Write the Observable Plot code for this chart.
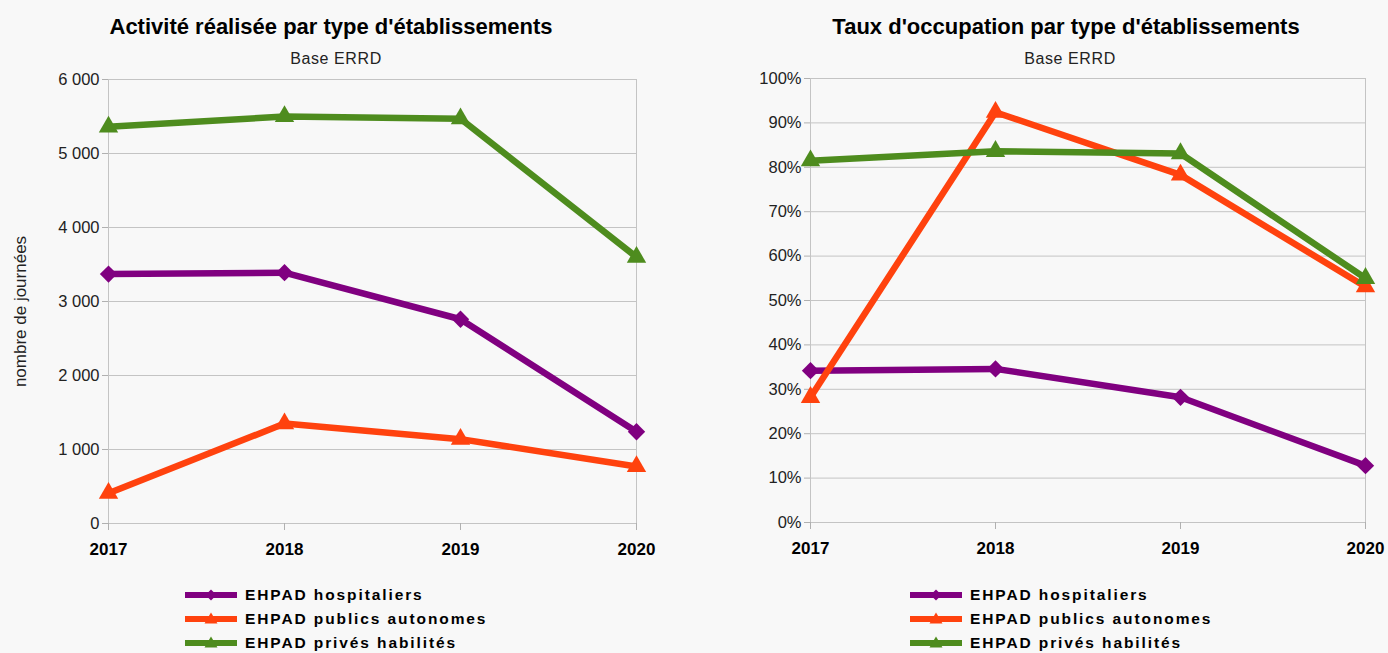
<!DOCTYPE html>
<html>
<head>
<meta charset="utf-8">
<script src="https://cdn.jsdelivr.net/npm/d3@7"></script>
<script src="https://cdn.jsdelivr.net/npm/@observablehq/plot@0.6"></script>
<style>
  html, body { margin: 0; padding: 0; }
  body { width: 1388px; height: 653px; background: #f8f8f8; font-family: "Liberation Sans", Arial, sans-serif; position: relative; overflow: hidden; }
  .title { position: absolute; top: 14px; font-weight: bold; font-size: 22px; color: #000; white-space: nowrap; transform: translateX(-50%); }
  .subtitle { position: absolute; top: 50px; font-size: 16px; color: #222; white-space: nowrap; transform: translateX(-50%); letter-spacing: 0.6px; }
  .chart { position: absolute; top: 68px; }
  .legend { position: absolute; top: 583px; }
  .legend .row { display: flex; align-items: center; height: 24px; }
  .legend .row span { font-weight: bold; font-size: 15.5px; letter-spacing: 1.9px; color: #000; margin-left: 8px; }
</style>
</head>
<body>
<div class="title" style="left:331px">Activité réalisée par type d'établissements</div>
<div class="subtitle" style="left:336px">Base ERRD</div>
<div class="chart" id="left" style="left:0px"></div>
<div class="legend" id="legLeft" style="left:185px"></div>

<div class="title" style="left:1066px">Taux d'occupation par type d'établissements</div>
<div class="subtitle" style="left:1070px">Base ERRD</div>
<div class="chart" id="right" style="left:694px"></div>
<div class="legend" id="legRight" style="left:910px"></div>

<script>
// ---- data ----
const years = [2017, 2018, 2019, 2020];
const seriesNames = ["EHPAD hospitaliers", "EHPAD publics autonomes", "EHPAD privés habilités"];
const seriesColors = ["#800080", "#ff420e", "#4e8c1e"];
const seriesSymbols = ["diamond2", "triangle", "triangle"];

// Activité réalisée (nombre de journées)
const activiteHospitaliers = [3370, 3390, 2760, 1240];
const activitePublics = [410, 1350, 1140, 770];
const activitePrives = [5360, 5500, 5470, 3600];

// Taux d'occupation
const tauxHospitaliers = [0.342, 0.346, 0.282, 0.128];
const tauxPublics = [0.282, 0.924, 0.783, 0.531];
const tauxPrives = [0.815, 0.836, 0.831, 0.550];

const activiteTicks = [0, 1000, 2000, 3000, 4000, 5000, 6000];
const tauxTicks = [0, 0.1, 0.2, 0.3, 0.4, 0.5, 0.6, 0.7, 0.8, 0.9, 1.0];
const activiteLabel = "nombre de journées";

function toRows(valuesList) {
  const rows = [];
  valuesList.forEach((vals, i) => {
    vals.forEach((v, j) => rows.push({serie: seriesNames[i], year: years[j], value: v}));
  });
  return rows;
}

const fmtSpace = d => d3.format(",")(d).replace(/,/g, " ");
const fmtPct = d3.format(".0%");

function seriesMarks(rows) {
  const marks = [];
  seriesNames.forEach((name, i) => {
    const data = rows.filter(r => r.serie === name);
    marks.push(Plot.line(data, {x: "year", y: "value", stroke: seriesColors[i], strokeWidth: 6.5, strokeLinejoin: "round"}));
  });
  seriesNames.forEach((name, i) => {
    const data = rows.filter(r => r.serie === name);
    marks.push(Plot.dot(data, {x: "year", y: "value", fill: seriesColors[i], stroke: "none",
      symbol: () => seriesSymbols[i], r: seriesSymbols[i] === "diamond2" ? 7.8 : 7.2}));
  });
  return marks;
}

const common = {
  width: 694,
  height: 500,
  style: {background: "transparent", fontFamily: "'Liberation Sans', Arial, sans-serif", color: "#222", overflow: "visible"},
  x: {domain: [2017, 2020]},
  symbol: {type: "identity"}
};

const leftChart = Plot.plot({
  ...common,
  marginLeft: 108, marginRight: 58, marginTop: 11, marginBottom: 45,
  y: {domain: [0, 6000]},
  marks: [
    Plot.gridY(activiteTicks, {stroke: "#c4c4c4", strokeOpacity: 1}),
    Plot.frame({stroke: "#c4c4c4"}),
    Plot.axisX(years, {tickFormat: "d", tickSize: 7, tickPadding: 12, fontSize: 17, fontWeight: "bold", label: null, stroke: "#b0b0b0", fill: "#000"}),
    Plot.axisY(activiteTicks, {tickFormat: fmtSpace, tickSize: 6, tickPadding: 3, fontSize: 16.5, label: null, stroke: "#b0b0b0", fill: "#222"}),
    Plot.text([activiteLabel], {text: d => d, frameAnchor: "left", textAnchor: "middle", rotate: -90, dx: -88, dy: 10, fontSize: 17, fill: "#222"}),
    ...seriesMarks(toRows([activiteHospitaliers, activitePublics, activitePrives]))
  ]
});
document.getElementById("left").append(leftChart);

const rightChart = Plot.plot({
  ...common,
  marginLeft: 116, marginRight: 23, marginTop: 10, marginBottom: 46,
  y: {domain: [0, 1]},
  marks: [
    Plot.gridY(tauxTicks, {stroke: "#c4c4c4", strokeOpacity: 1}),
    Plot.frame({stroke: "#c4c4c4"}),
    Plot.axisX(years, {tickFormat: "d", tickSize: 7, tickPadding: 12, fontSize: 17, fontWeight: "bold", label: null, stroke: "#b0b0b0", fill: "#000"}),
    Plot.axisY(tauxTicks, {tickFormat: fmtPct, tickSize: 6, tickPadding: 3, fontSize: 16.5, label: null, stroke: "#b0b0b0", fill: "#222"}),
    ...seriesMarks(toRows([tauxHospitaliers, tauxPublics, tauxPrives]))
  ]
});
document.getElementById("right").append(rightChart);

// ---- legends ----
function buildLegend(el, swatchW) {
  seriesNames.forEach((name, i) => {
    const row = document.createElement("div");
    row.className = "row";
    const c = swatchW / 2;
    const sym = seriesSymbols[i] === "diamond2"
      ? `<path d="M${c},2.5 L${c+5.5},8 L${c},13.5 L${c-5.5},8 Z" fill="${seriesColors[i]}"/>`
      : `<path d="M${c},1.5 L${c+6.5},12.5 L${c-6.5},12.5 Z" fill="${seriesColors[i]}"/>`;
    row.innerHTML = `<svg width="${swatchW}" height="16"><line x1="0" x2="${swatchW}" y1="8" y2="8" stroke="${seriesColors[i]}" stroke-width="6"/>${sym}</svg><span>${name}</span>`;
    el.append(row);
  });
}
buildLegend(document.getElementById("legLeft"), 52);
buildLegend(document.getElementById("legRight"), 52);
</script>
</body>
</html>
